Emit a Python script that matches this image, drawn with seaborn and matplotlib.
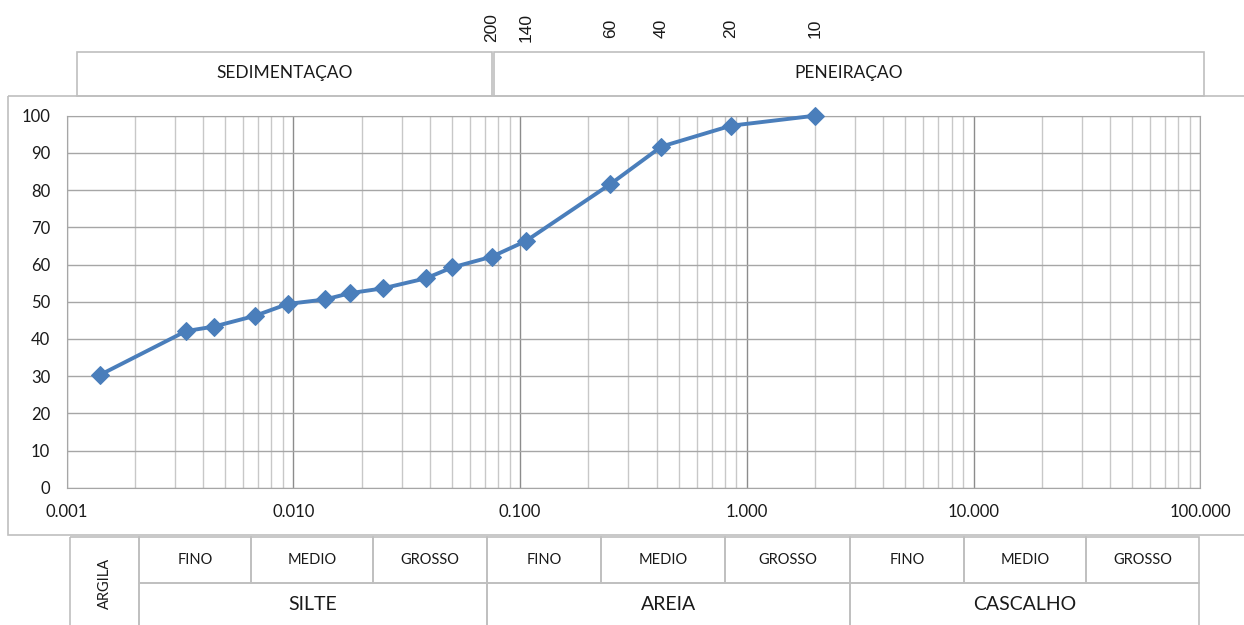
#curva granulometrica (sedimentacao + peneiramento)
import numpy as np
import matplotlib
matplotlib.use('Agg')
import matplotlib.pyplot as plt
import seaborn as sns
from matplotlib.patches import Rectangle
from matplotlib.ticker import LogLocator, FuncFormatter, NullFormatter
from matplotlib.transforms import blended_transform_factory

#dados (diametro em mm, % passante)
diametro = [0.00140, 0.00336, 0.00445, 0.00677, 0.00944, 0.0138, 0.0178,
            0.0249, 0.0385, 0.0501, 0.075, 0.106, 0.25, 0.42, 0.85, 2.0]
passante = [30.3, 42.1, 43.3, 46.2, 49.4, 50.6, 52.3, 53.6, 56.3, 59.2,
            62.1, 66.3, 81.6, 91.7, 97.3, 100.0]

#peneiras
peneiras = ['200', '140', '60', '40', '20', '10']
abertura = [0.075, 0.106, 0.25, 0.42, 0.85, 2.0]

#textos dos quadros
ensaios = ['SEDIMENTAÇAO', 'PENEIRAÇAO']
subclasses = ['FINO', 'MEDIO', 'GROSSO']
classes = ['SILTE', 'AREIA', 'CASCALHO']
argila = 'ARGILA'

sns.set_style('white')
plt.rcParams['font.family'] = ['Lato', 'DejaVu Sans']
plt.rcParams['text.color'] = '#1a1a1a'

W, H = 1244, 625
fig = plt.figure(figsize=(12.44, 6.25), dpi=100)

def px_axes(x0, y0, x1, y1):
    return [x0 / W, 1 - y1 / H, (x1 - x0) / W, (y1 - y0) / H]

#eixo de fundo em pixels para molduras e tabela
fundo = fig.add_axes([0, 0, 1, 1])
fundo.set_xlim(0, W)
fundo.set_ylim(H, 0)
fundo.axis('off')

linha = '#bfbfbf'
fundo.add_patch(Rectangle((8, 96), 1260, 439, fill=False, ec=linha, lw=1.2))

#quadros superiores
fundo.add_patch(Rectangle((77, 52), 415, 44, fill=False, ec=linha, lw=1.2))
fundo.add_patch(Rectangle((494, 52), 710, 44, fill=False, ec=linha, lw=1.2))
fundo.text(284.5, 73, ensaios[0], ha='center', va='center', fontsize=12.5)
fundo.text(849, 73, ensaios[1], ha='center', va='center', fontsize=12.5)

#tabela inferior
limites = [139, 251, 373, 487, 601, 725, 850, 964, 1086, 1199]
y0, y1, y2 = 537, 583, 630
fundo.add_patch(Rectangle((70, y0), 139 - 70, y2 - y0, fill=False, ec=linha, lw=1.2))
fundo.text(105, 583, argila, rotation=90, ha='center', va='center', fontsize=10.5)
for i, cl in enumerate(classes):
    cols = limites[3 * i:3 * i + 4]
    for j, sub in enumerate(subclasses):
        fundo.add_patch(Rectangle((cols[j], y0), cols[j + 1] - cols[j], y1 - y0,
                                  fill=False, ec=linha, lw=1.2))
        fundo.text((cols[j] + cols[j + 1]) / 2, 560, sub, ha='center', va='center', fontsize=10.5)
    fundo.add_patch(Rectangle((cols[0], y1), cols[3] - cols[0], y2 - y1,
                              fill=False, ec=linha, lw=1.2))
    fundo.text((cols[0] + cols[3]) / 2, 605, cl, ha='center', va='center', fontsize=14)

#grafico principal
ax = fig.add_axes(px_axes(66.7, 115.7, 1200.2, 487.7))
ax.set_facecolor('none')
sns.lineplot(x=diametro, y=passante, ax=ax, color='#4a7ebb', lw=2.8,
             marker='D', markersize=9, markeredgecolor='#4a7ebb', clip_on=False,
             zorder=5, sort=False)
ax.set_xscale('log')
ax.set_xlim(0.001, 100)
ax.set_ylim(0, 100)
ax.set_yticks(range(0, 101, 10))
ax.xaxis.set_major_locator(LogLocator(base=10))
ax.xaxis.set_minor_locator(LogLocator(base=10, subs=np.arange(2, 10)))
ax.xaxis.set_minor_formatter(NullFormatter())
ax.xaxis.set_major_formatter(FuncFormatter(lambda v, p: f'{v:.3f}'))
ax.grid(which='major', axis='x', color='#8c8c8c', lw=1)
ax.grid(which='minor', axis='x', color='#c8c8c8', lw=1)
ax.grid(which='major', axis='y', color='#a6a6a6', lw=1)
ax.tick_params(axis='x', which='minor', length=0)
ax.tick_params(axis='x', which='major', length=5, color='#8c8c8c', pad=7,
               labelsize=12, labelcolor='#1a1a1a')
ax.tick_params(axis='y', length=0, pad=12, labelsize=12, labelcolor='#1a1a1a')
for s in ax.spines.values():
    s.set_color('#a6a6a6')
ax.set_xlabel('')
ax.set_ylabel('')

#numeros das peneiras no topo
tr = blended_transform_factory(ax.transData, fundo.transData)
for p, d in zip(peneiras, abertura):
    fundo.text(d, 28, p, transform=tr, rotation=90, ha='center', va='center',
               fontsize=12.5, family=['Liberation Sans', 'DejaVu Sans'])

fig.savefig('out.png', dpi=100)
